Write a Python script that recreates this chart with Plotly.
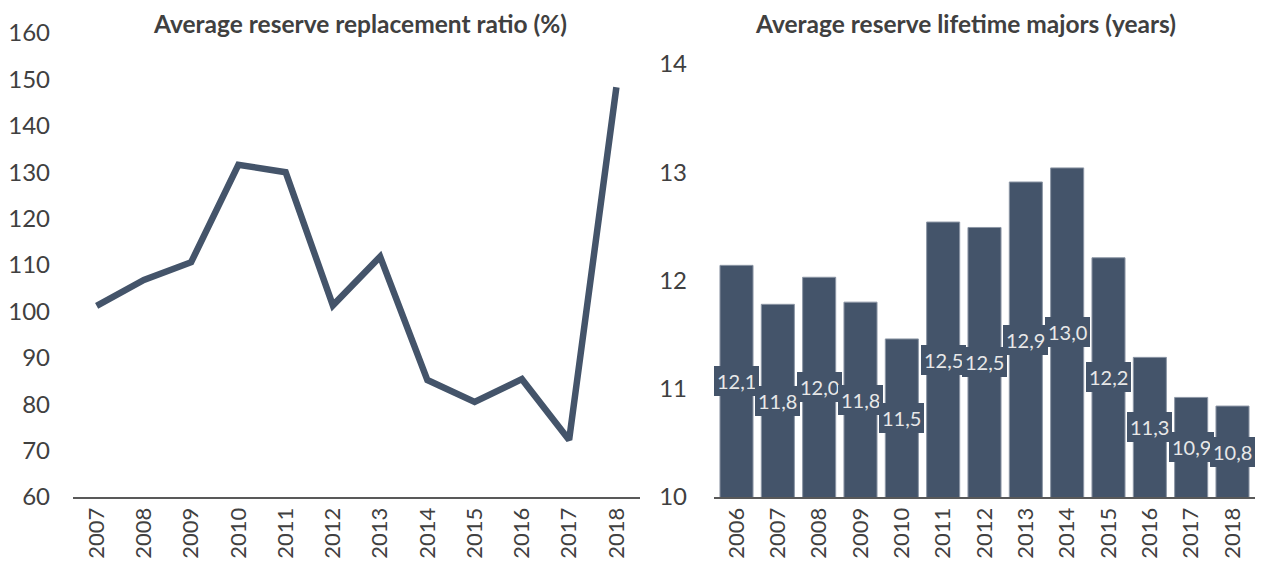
import plotly.graph_objects as go

# Dữ liệu biểu đồ trái: tỷ lệ thay thế trữ lượng (%)
years_rrr = ["2007", "2008", "2009", "2010", "2011", "2012",
             "2013", "2014", "2015", "2016", "2017", "2018"]
rrr = [101.2, 106.8, 110.6, 131.6, 130.0, 101.3, 111.8, 85.2, 80.5, 85.4, 72.3, 148.3]

# Dữ liệu biểu đồ phải: tuổi thọ trữ lượng (năm)
years_life = ["2006", "2007", "2008", "2009", "2010", "2011", "2012",
              "2013", "2014", "2015", "2016", "2017", "2018"]
lifetime = [12.14, 11.78, 12.03, 11.80, 11.46, 12.54, 12.49, 12.91, 13.04, 12.21, 11.29, 10.92, 10.84]

# Trang HTML có lề 8px, nên hình nhỏ hơn cửa sổ một chút
W, H = 1256, 563
navy = "#44546A"
axis_col = "#595959"
txt_col = "#404040"
font_fam = "Lato, 'Open Sans', sans-serif"

fig = go.Figure()

fig.add_trace(go.Scatter(
    x=years_rrr, y=rrr, mode="lines",
    line=dict(color=navy, width=6.5),
    xaxis="x", yaxis="y", showlegend=False,
))

fig.add_trace(go.Bar(
    x=years_life, y=lifetime,
    marker=dict(color=navy, line=dict(color="#8c96a5", width=1)),
    xaxis="x2", yaxis="y2", showlegend=False,
))

# Nhãn giá trị ở giữa cột (từ 10 đến đỉnh cột); x theo chỉ số category
for i, v in enumerate(lifetime):
    fig.add_annotation(
        x=i, y=(10 + v) / 2, xref="x2", yref="y2",
        text=f"{v:.1f}".replace(".", ","), showarrow=False,
        font=dict(color="#e8e8e8", size=20, family=font_fam),
        bgcolor=navy, borderwidth=0, borderpad=3,
    )

fig.add_annotation(
    x=352 / W, y=1 - 16 / H, xref="paper", yref="paper",
    xanchor="center", yanchor="middle",
    text="<b>Average reserve replacement ratio (%)</b>", showarrow=False,
    font=dict(size=24.5, color=txt_col, family=font_fam),
)
fig.add_annotation(
    x=957 / W, y=1 - 16 / H, xref="paper", yref="paper",
    xanchor="center", yanchor="middle",
    text="<b>Average reserve lifetime majors (years)</b>", showarrow=False,
    font=dict(size=24.5, color=txt_col, family=font_fam),
)

xcommon = dict(
    type="category", tickangle=-90, showgrid=False, ticks="",
    showline=True, linecolor=axis_col, linewidth=2, automargin=False,
    tickfont=dict(size=22, color=txt_col, family=font_fam),
)
ycommon = dict(
    showgrid=False, zeroline=False, showline=False, ticks="", automargin=False,
    tickfont=dict(size=24, color=txt_col, family=font_fam),
)

fig.update_layout(
    width=W, height=H,
    margin=dict(l=0, r=0, t=0, b=0),
    paper_bgcolor="white", plot_bgcolor="white",
    bargap=0.2,
    xaxis=dict(xcommon, domain=[65 / W, 632 / W], anchor="y",
               range=[-0.5, len(years_rrr) - 0.5]),
    yaxis=dict(ycommon, domain=[1 - 489 / H, 1 - 25 / H], range=[60, 160],
               dtick=10, anchor="x", ticklabelstandoff=22),
    xaxis2=dict(xcommon, domain=[706 / W, 1247 / W], anchor="y2"),
    yaxis2=dict(ycommon, domain=[1 - 489 / H, 1 - 56 / H], range=[10, 14],
                dtick=1, anchor="x2", ticklabelstandoff=26),
)

fig.write_html("out.html")
